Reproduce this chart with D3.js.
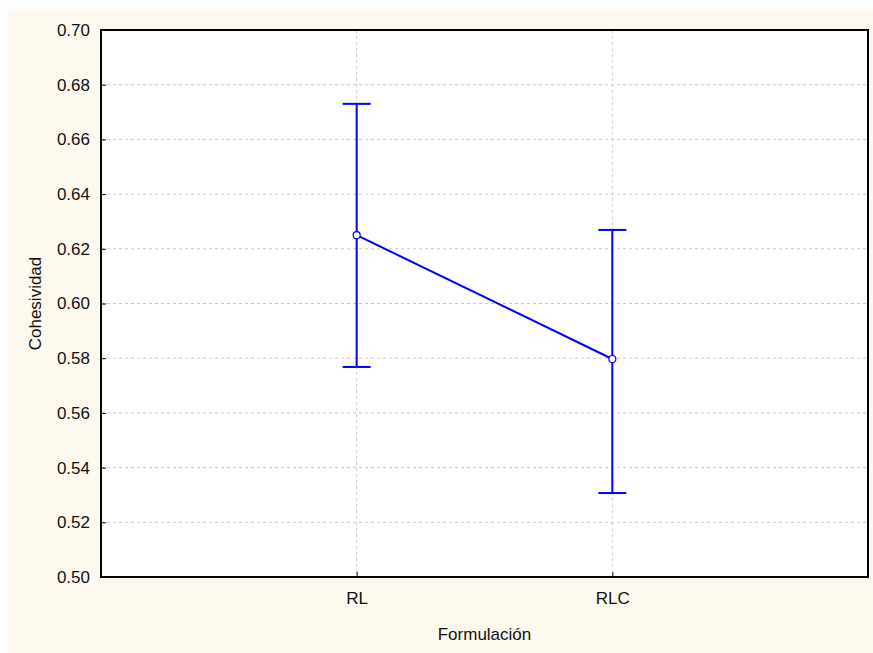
<!DOCTYPE html>
<html><head><meta charset="utf-8">
<script src="https://cdn.jsdelivr.net/npm/d3@7"></script>
<style>body{margin:0;background:#fff}</style>
</head><body>
<svg id="c" width="873" height="653"></svg>
<script>
const categories = ["RL", "RLC"];
const means = [0.625, 0.5797];
const upper = [0.673, 0.6269];
const lower = [0.5768, 0.5307];
const yTicks = [0.50, 0.52, 0.54, 0.56, 0.58, 0.60, 0.62, 0.64, 0.66, 0.68, 0.70];

const FONT = "Arial, 'Liberation Sans', sans-serif";
const svg = d3.select("#c");
const m = {l: 101, r: 868, t: 30, b: 577};
svg.append("rect").attr("x", 8).attr("y", 9).attr("width", 865).attr("height", 644).attr("fill", "#fdf9ef");
svg.append("rect").attr("x", m.l).attr("y", m.t).attr("width", m.r - m.l).attr("height", m.b - m.t).attr("fill", "#fff");

const x = d3.scalePoint().domain(["", ...categories, " "]).range([m.l, m.r]);
const y = d3.scaleLinear().domain([0.5, 0.7]).range([m.b, m.t]);

const g = svg.append("g");
// grid
g.selectAll(".gy").data(yTicks.slice(1, -1)).join("line")
  .attr("x1", m.l).attr("x2", m.r).attr("y1", d => y(d)).attr("y2", d => y(d))
  .attr("stroke", "#c8c8c8").attr("stroke-dasharray", "3,3");
g.selectAll(".gx").data(categories).join("line")
  .attr("x1", d => x(d)).attr("x2", d => x(d)).attr("y1", m.t).attr("y2", m.b)
  .attr("stroke", "#c8c8c8").attr("stroke-dasharray", "3,3");

// axes (inward ticks)
const ya = svg.append("g").attr("transform", `translate(${m.l},0)`)
  .call(d3.axisLeft(y).tickValues(yTicks).tickFormat(d3.format(".2f")).tickSize(-5).tickPadding(11));
ya.select(".domain").remove();
ya.selectAll(".tick line").attr("stroke", "#000");
ya.selectAll("text").attr("font-family", FONT).attr("font-size", 17).attr("fill", "#111");
const xa = svg.append("g").attr("transform", `translate(0,${m.b})`)
  .call(d3.axisBottom(x).tickValues(categories).tickSize(-5).tickPadding(15));
xa.select(".domain").remove();
xa.selectAll(".tick line").attr("stroke", "#000");
xa.selectAll("text").attr("font-family", FONT).attr("font-size", 17).attr("fill", "#111");

// error bars
const cap = 14;
categories.forEach((c, i) => {
  const cx = x(c);
  g.append("line").attr("x1", cx).attr("x2", cx).attr("y1", y(upper[i])).attr("y2", y(lower[i]))
    .attr("stroke", "#0000ff").attr("stroke-width", 2);
  [upper[i], lower[i]].forEach(v => {
    g.append("line").attr("x1", cx - cap).attr("x2", cx + cap).attr("y1", y(v)).attr("y2", y(v))
      .attr("stroke", "#0000ff").attr("stroke-width", 2);
  });
});
const line = d3.line().x((d, i) => x(categories[i])).y(d => y(d));
g.append("path").datum(means).attr("d", line).attr("fill", "none").attr("stroke", "#0000ff").attr("stroke-width", 2);
g.selectAll(".pt").data(means).join("circle")
  .attr("cx", (d, i) => x(categories[i])).attr("cy", d => y(d)).attr("r", 3.5)
  .attr("fill", "#fff").attr("stroke", "#0000ff").attr("stroke-width", 1.2);

// frame
svg.append("rect").attr("x", m.l).attr("y", m.t).attr("width", m.r - m.l).attr("height", m.b - m.t)
  .attr("fill", "none").attr("stroke", "#000").attr("stroke-width", 2);

// titles
svg.append("text").attr("x", (m.l + m.r) / 2).attr("y", 640).attr("text-anchor", "middle")
  .attr("font-family", FONT).attr("font-size", 17).attr("fill", "#111").text("Formulación");
svg.append("text").attr("transform", `translate(41,${(m.t + m.b) / 2}) rotate(-90)`).attr("text-anchor", "middle")
  .attr("font-family", FONT).attr("font-size", 17).attr("fill", "#111").text("Cohesividad");
</script>
</body></html>
